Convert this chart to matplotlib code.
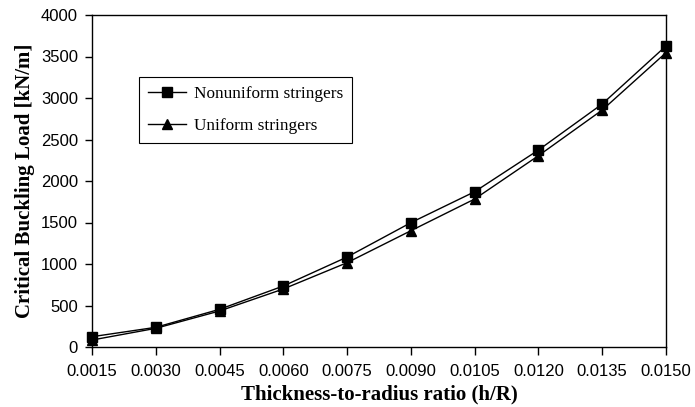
import matplotlib
matplotlib.use("Agg")
import matplotlib.pyplot as plt

ratio = [0.0015, 0.0030, 0.0045, 0.0060, 0.0075, 0.0090, 0.0105, 0.0120, 0.0135, 0.0150]
nonuniform = [124, 237, 454, 735, 1084, 1498, 1871, 2373, 2928, 3627]
uniform = [84, 225, 434, 699, 1016, 1401, 1783, 2305, 2855, 3546]
xtick_labels = ["0.0015", "0.0030", "0.0045", "0.0060", "0.0075", "0.0090",
                "0.0105", "0.0120", "0.0135", "0.0150"]
yticks = [0, 500, 1000, 1500, 2000, 2500, 3000, 3500, 4000]

fig = plt.figure(figsize=(6.95, 4.07), dpi=100)
ax = fig.add_axes([92/695, 60/407, 574/695, 332/407])

ax.plot(ratio, nonuniform, color="black", lw=1.0, marker="s", ms=6.5,
        label="Nonuniform stringers", clip_on=False, zorder=3)
ax.plot(ratio, uniform, color="black", lw=1.0, marker="^", ms=7,
        label="Uniform stringers", clip_on=False, zorder=3)

ax.set_xlim(0.0015, 0.0150)
ax.set_ylim(0, 4000)
ax.set_xticks(ratio)
ax.set_xticklabels(xtick_labels)
ax.set_yticks(yticks)
for lab in ax.get_xticklabels() + ax.get_yticklabels():
    lab.set_fontfamily("Liberation Sans")
    lab.set_fontsize(12)
ax.tick_params(axis="x", direction="out", length=6, width=1, color="black", pad=6)
ax.tick_params(axis="y", direction="out", length=5, width=1, color="black", pad=5)
for s in ax.spines.values():
    s.set_linewidth(1)
    s.set_color("black")

ax.set_xlabel("Thickness-to-radius ratio (h/R)", fontfamily="Liberation Serif",
              fontweight="bold", fontsize=15, labelpad=4)
ax.set_ylabel("Critical Buckling Load [kN/m]", fontfamily="Liberation Serif",
              fontweight="bold", fontsize=15, labelpad=4)

leg = ax.legend(loc="upper left", bbox_to_anchor=(0.082, 0.813), borderaxespad=0,
                prop={"family": "Liberation Serif", "size": 12.4}, fancybox=False,
                edgecolor="black", framealpha=1, handlelength=2.25,
                borderpad=0.5, labelspacing=0.95, handletextpad=0.45)
leg.get_frame().set_linewidth(0.8)

fig.savefig("out.png", dpi=100)
